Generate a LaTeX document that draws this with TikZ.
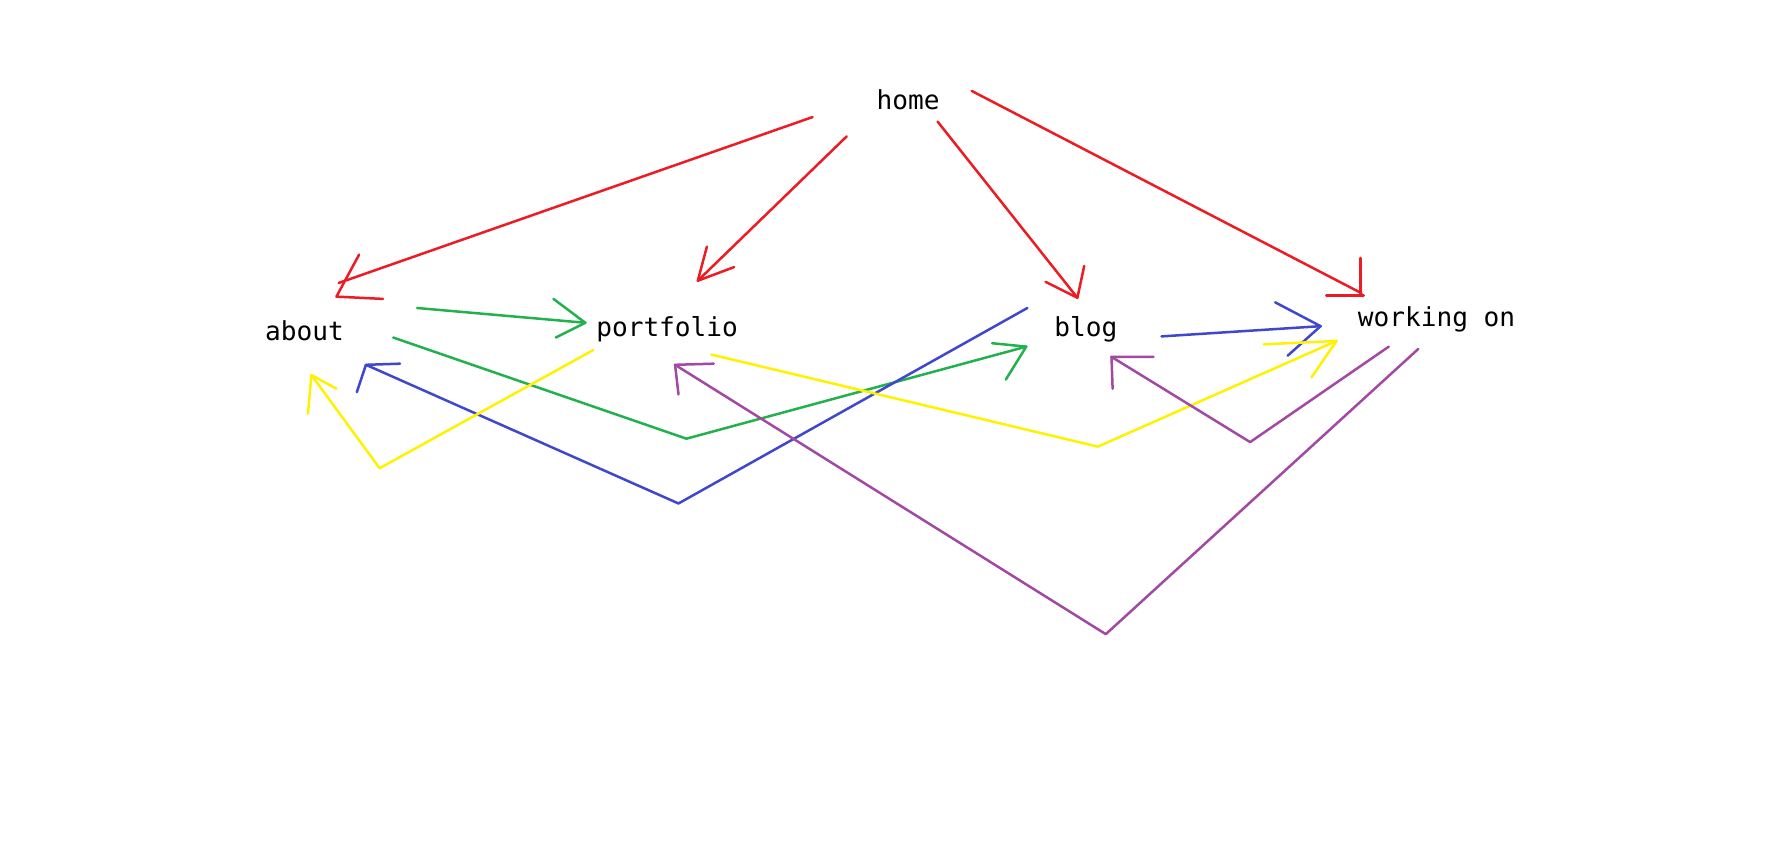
\documentclass[tikz,border=0pt]{standalone}
\usepackage{fontspec}
\newfontfamily\labelfont{DejaVu Sans Mono}
\definecolor{pred}{HTML}{ED1C24}
\definecolor{pgreen}{HTML}{22B14C}
\definecolor{pblue}{HTML}{3F48CC}
\definecolor{pyellow}{HTML}{FFF200}
\definecolor{ppurple}{HTML}{A349A4}
\begin{document}
\begin{tikzpicture}[x=1pt,y=-1pt,
  page/.style={anchor=base,inner sep=0pt,font=\labelfont\fontsize{23}{23}\selectfont},
  stroke/.style={line width=2.2pt,line cap=round,line join=round},
  redline/.style={stroke,draw=pred},
  greenline/.style={stroke,draw=pgreen},
  blueline/.style={stroke,draw=pblue},
  yellowline/.style={stroke,draw=pyellow},
  purpleline/.style={stroke,draw=ppurple}]
\useasboundingbox[fill=white] (0,0) rectangle (1568,744);
% pages
\node[page] (home) at (799,96) {home};
\node[page] (about) at (268,300) {about};
\node[page] (portfolio) at (587,296) {portfolio};
\node[page] (blog) at (955.5,296) {blog};
\node[page] (working) at (1264,287) {working on};
% bend points
\coordinate (gbend) at (604,386);
\coordinate (bbend) at (597,443);
\coordinate (ybend1) at (334,412);
\coordinate (ybend2) at (966,393);
\coordinate (pbend1) at (1100,389);
\coordinate (pbend2) at (973,558);
% red: home to every page
\draw[redline] ([shift={(-84,7)}]home.base) -- ([shift={(30,-51)}]about.base) coordinate (r1);
\draw[redline] (r1) ++(18,-25) -- ++(-20,37) -- ++(41,2);
\draw[redline] ([shift={(-54,24)}]home.base) -- ([shift={(27,-49)}]portfolio.base) coordinate (r2);
\draw[redline] (r2) ++(8,-30) -- ++(-8,30) -- ++(32,-12);
\draw[redline] ([shift={(26,11)}]home.base) -- ([shift={(-7.5,-34)}]blog.base) coordinate (r3);
\draw[redline] (r3) ++(6,-28) -- ++(-6,28) -- ++(-28,-14);
\draw[redline] ([shift={(56,-16)}]home.base) -- ([shift={(-66,-29)}]working.base) coordinate (r4);
\draw[redline] (r4) ++(-1,-31) -- ++(0,33) ++(-30,0) -- ++(33,0);
% green: from about
\draw[greenline] ([shift={(99,-29)}]about.base) -- ([shift={(-72,-12)}]portfolio.base) coordinate (g1);
\draw[greenline] (g1) ++(-28,-21) -- ++(28,21) -- ++(-26,13);
\draw[greenline] ([shift={(78,-3)}]about.base) -- (gbend) -- ([shift={(-52.5,9)}]blog.base) coordinate (g2);
\draw[greenline] (g2) ++(-30,-3) -- ++(30,3) -- ++(-18,29);
% blue: from blog
\draw[blueline] ([shift={(-51.5,-25)}]blog.base) -- (bbend) -- ([shift={(54,21)}]about.base) coordinate (b1);
\draw[blueline] (b1) ++(30,-1) -- ++(-30,1) -- ++(-8,24);
\draw[blueline] ([shift={(66.5,0)}]blog.base) -- ([shift={(-102,0)}]working.base) coordinate (b2);
\draw[blueline] (b2) ++(-40,-21) -- ++(40,21) -- ++(-29,26);
% yellow: from portfolio
\draw[yellowline] ([shift={(-65,12)}]portfolio.base) -- (ybend1) -- ([shift={(6,30)}]about.base) coordinate (y1);
\draw[yellowline] (y1) ++(22,12) -- ++(-22,-12) -- ++(-3,34);
\draw[yellowline] ([shift={(39,16)}]portfolio.base) -- (ybend2) -- ([shift={(-88,13)}]working.base) coordinate (y2);
\draw[yellowline] (y2) ++(-64,3) -- ++(64,-3) -- ++(-22,32);
% purple: from working on
\draw[purpleline] ([shift={(-42,18)}]working.base) -- (pbend1) -- ([shift={(22.5,18)}]blog.base) coordinate (p1);
\draw[purpleline] (p1) ++(37,0) -- ++(-37,0) -- ++(1,28);
\draw[purpleline] ([shift={(-16,20)}]working.base) -- (pbend2) -- ([shift={(7,25)}]portfolio.base) coordinate (p2);
\draw[purpleline] (p2) ++(34,-1) -- ++(-34,1) -- ++(3,26);
\end{tikzpicture}
\end{document}
